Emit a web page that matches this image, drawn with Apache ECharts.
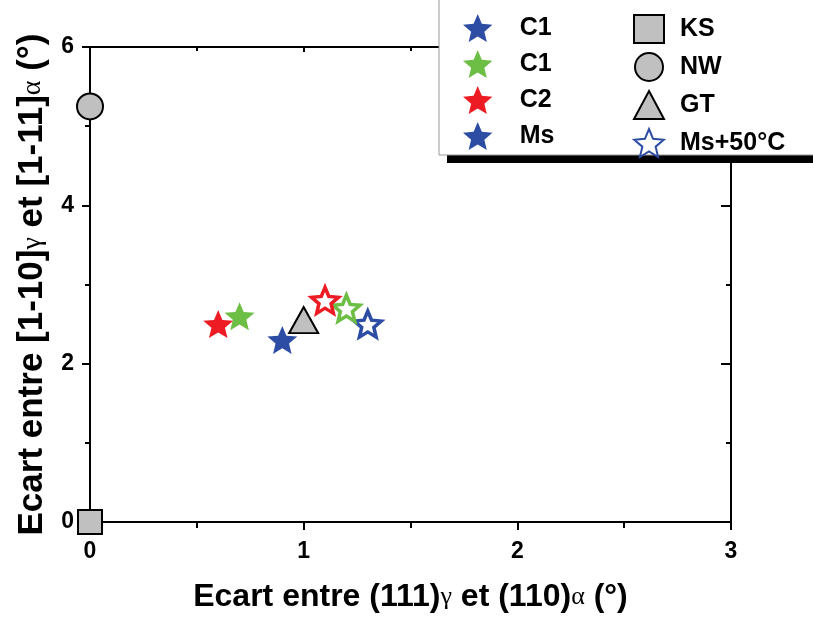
<!DOCTYPE html>
<html>
<head>
<meta charset="utf-8">
<script src="https://cdn.jsdelivr.net/npm/echarts@6/dist/echarts.min.js"></script>
<style>html,body{margin:0;padding:0;background:#fff}#c{width:813px;height:618px}</style>
</head>
<body>
<div id="c"></div>
<script>
// ---- data ----
const xTicks = [0, 1, 2, 3];
const yTicks = [0, 2, 4, 6];
const ptKS = [[0, 0]];
const ptNW = [[0, 5.25]];
const ptGT = [[1.0, 2.55]];
const ptC1blue = [[0.9, 2.3]];
const ptC1green = [[0.7, 2.6]];
const ptC2red = [[0.6, 2.5]];
const ptMs = [];
const ptBlue50 = [[1.3, 2.5]];
const ptGreen50 = [[1.2, 2.7]];
const ptRed50 = [[1.1, 2.8]];
const legendLeftNames = ['C1', 'C1 ', 'C2', 'Ms'];
const legendRightNames = ['KS', 'NW', 'GT', 'Ms+50°C'];

const BLUE = '#2C4DA3', GREEN = '#6DBE45', RED = '#ED1C24', GREY = '#C0C0C0';
const STAR = 'path://M50 0 L63.23 31.8 L97.55 34.55 L71.4 56.95 L79.39 90.45 L50 72.5 L20.61 90.45 L28.6 56.95 L2.45 34.55 L36.77 31.8 Z';
const AXFONT = '"Liberation Sans", Arial, sans-serif';

function filledStar(name, data, color) {
  return { name, type: 'scatter', data, symbol: STAR, symbolSize: [30, 28], z: 5,
    itemStyle: { color: color, opacity: 1 } };
}
function hollowStar(name, data, color) {
  return { name, type: 'scatter', data, symbol: STAR, symbolSize: [27, 26], z: 5,
    itemStyle: { color: '#fff', borderColor: color, borderWidth: 3.5, opacity: 1 } };
}
function greyShape(name, data, symbol, size) {
  return { name, type: 'scatter', data, symbol, symbolSize: size, z: 4,
    itemStyle: { color: GREY, borderColor: '#000', borderWidth: 2, opacity: 1 } };
}

const axisLine = { show: true, onZero: false, lineStyle: { color: '#000', width: 2 } };
const chart = echarts.init(document.getElementById('c'), null, { renderer: 'canvas' });
const legendText = { fontFamily: AXFONT, fontWeight: 'bold', fontSize: 25, color: '#000', padding: [0, 0, 0, 22] };
const titleStyleX = { fontFamily: AXFONT, fontWeight: 'bold', fontSize: 32, color: '#000',
  rich: { g: { fontFamily: '"Liberation Serif", serif', fontWeight: 'normal', fontSize: 26, color: '#000' } } };
const titleStyleY = { fontFamily: AXFONT, fontWeight: 'bold', fontSize: 35, color: '#000',
  rich: { g: { fontFamily: '"Liberation Serif", serif', fontWeight: 'normal', fontSize: 28, color: '#000' } } };

chart.setOption({
  animation: false,
  backgroundColor: '#fff',
  grid: { left: 90, right: 82, top: 47, bottom: 94 },
  xAxis: [{
    type: 'value', position: 'bottom', min: 0, max: 3, interval: 1,
    axisLine, splitLine: { show: false },
    axisTick: { show: true, inside: false, length: 8, lineStyle: { color: '#000', width: 2 } },
    minorTick: { show: true, splitNumber: 2, length: 6, lineStyle: { color: '#000', width: 2 } },
    axisLabel: { margin: 18, fontFamily: AXFONT, fontWeight: 'bold', fontSize: 23, color: '#000',
      formatter: v => xTicks.includes(v) ? String(v) : '' },
    name: 'Ecart entre (111){g|γ} et (110){g|α} (°)', nameLocation: 'middle', nameGap: 59,
    nameTextStyle: titleStyleX
  }, {
    type: 'value', position: 'top', min: 0, max: 3, interval: 1,
    axisLine, splitLine: { show: false }, axisLabel: { show: false },
    axisTick: { show: true, inside: true, length: 5, lineStyle: { color: '#000', width: 2 } },
    minorTick: { show: true, splitNumber: 2, length: 4, lineStyle: { color: '#000', width: 2 } }
  }],
  yAxis: [{
    type: 'value', position: 'left', min: 0, max: 6, interval: 2,
    axisLine, splitLine: { show: false },
    axisTick: { show: true, inside: false, length: 8, lineStyle: { color: '#000', width: 2 } },
    minorTick: { show: true, splitNumber: 2, length: 5, lineStyle: { color: '#000', width: 2 } },
    axisLabel: { margin: 16, fontFamily: AXFONT, fontWeight: 'bold', fontSize: 23, color: '#000',
      formatter: v => yTicks.includes(v) ? String(v) : '' },
    name: 'Ecart entre [1-10]{g|γ} et [1-11]{g|α} (°)', nameLocation: 'middle', nameGap: 39,
    nameTextStyle: titleStyleY
  }, {
    type: 'value', position: 'right', min: 0, max: 6, interval: 2,
    axisLine, splitLine: { show: false }, axisLabel: { show: false },
    axisTick: { show: true, inside: true, length: 10, lineStyle: { color: '#000', width: 2 } },
    minorTick: { show: true, splitNumber: 2, length: 5, lineStyle: { color: '#000', width: 2 } }
  }],
  graphic: [
    { type: 'rect', z: 20, shape: { x: 447, y: 8, width: 400, height: 155 }, style: { fill: '#000' } },
    { type: 'rect', z: 21, shape: { x: 439, y: -5, width: 400, height: 160 },
      style: { fill: '#fff', stroke: '#999', lineWidth: 1 } }
  ],
  legend: [{
    z: 30, orient: 'vertical', left: 463, top: 14, padding: 0, itemWidth: 30, itemHeight: 28, itemGap: 8,
    data: legendLeftNames, textStyle: legendText, selectedMode: false
  }, {
    z: 30, orient: 'vertical', left: 633, top: 14, padding: 0, itemWidth: 30, itemHeight: 28, itemGap: 8,
    data: legendRightNames, textStyle: Object.assign({}, legendText, { padding: [0, 0, 0, 11] }), selectedMode: false
  }],
  series: [
    filledStar('C1', ptC1blue, BLUE),
    filledStar('C1 ', ptC1green, GREEN),
    filledStar('C2', ptC2red, RED),
    filledStar('Ms', ptMs, BLUE),
    greyShape('KS', ptKS, 'rect', [24, 24]),
    greyShape('NW', ptNW, 'circle', [26, 26]),
    greyShape('GT', ptGT, 'triangle', [29, 26]),
    hollowStar('Ms+50°C', ptBlue50, BLUE),
    hollowStar('C1 Ms+50°C', ptGreen50, GREEN),
    hollowStar('C2 Ms+50°C', ptRed50, RED)
  ]
});
</script>
</body>
</html>
